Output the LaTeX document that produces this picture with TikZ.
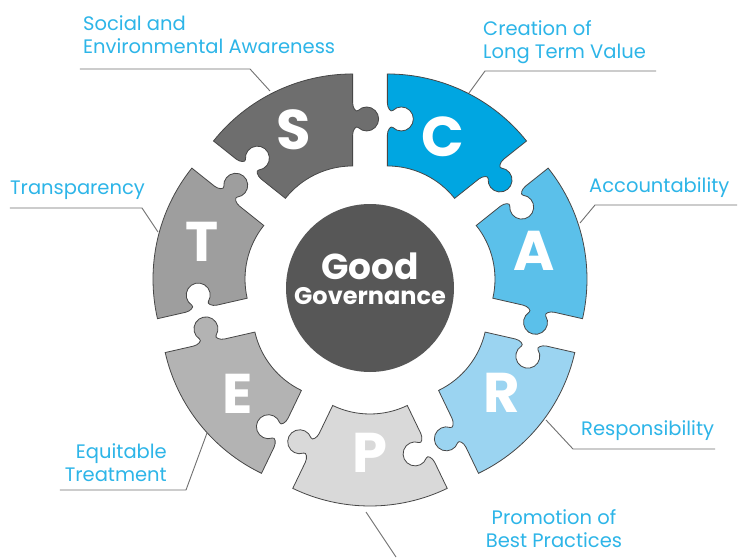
\documentclass[tikz,border=0pt]{standalone}
\usepackage{fontspec}
\setmainfont{Poppins}
\definecolor{cS}{HTML}{6E6E6E}
\definecolor{cC}{HTML}{00A6E1}
\definecolor{cA}{HTML}{5BC0EA}
\definecolor{cR}{HTML}{9BD4F1}
\definecolor{cP}{HTML}{D9D9D9}
\definecolor{cE}{HTML}{B3B3B3}
\definecolor{cT}{HTML}{9E9E9E}
\definecolor{cCore}{HTML}{575757}
\definecolor{lbl}{HTML}{2DB5E8}
\definecolor{ldr}{HTML}{707070}
\definecolor{edge}{HTML}{474747}
\tikzset{
  piece/.style={draw=edge, line width=0.8pt},
  pzletter/.style={text=white, inner sep=0pt, font=\fontsize{56}{56}\selectfont\bfseries},
  lbltext/.style={text=lbl, inner sep=0pt, font=\fontsize{19.5}{23}\selectfont},
  leader/.style={draw=ldr, line width=0.9pt},
}
\newcommand{\puzzlepiece}[2]{%
  \pgfmathsetmacro\pa{#1-25.7142857}%
  \pgfmathsetmacro\pb{#1+25.7142857}%
  \begin{scope}[shift={(#1:40)}]
    \path[piece, fill=#2] (\pa:86) -- (\pa:117)
      .. controls (\pa:122) and ({\pa-atan(3.39/126.63)}:{veclen(126.63,3.39)}) .. ({\pa-atan(5.51/124.51)}:{veclen(124.51,5.51)})
      arc[start angle={\pa-225}, end angle={\pa+45}, radius=12]
      .. controls ({\pa-atan(3.39/139.37)}:{veclen(139.37,3.39)}) and (\pa:144) .. (\pa:149)
      -- (\pa:178) arc[start angle=\pa, end angle=\pb, radius=178]
      -- (\pb:149)
      .. controls (\pb:144) and ({\pb-atan(3.39/139.37)}:{veclen(139.37,3.39)}) .. ({\pb-atan(5.51/141.49)}:{veclen(141.49,5.51)})
      arc[start angle={\pb+45}, end angle={\pb-225}, radius=12]
      .. controls ({\pb-atan(3.39/126.63)}:{veclen(126.63,3.39)}) and (\pb:122) .. (\pb:117)
      -- (\pb:86) arc[start angle=\pb, end angle=\pa, radius=86] -- cycle;
  \end{scope}%
}
\begin{document}
\begin{tikzpicture}[x=1pt, y=1pt]
  \useasboundingbox (-370,-269) rectangle (376,288);
  \fill[white] (-370,-269) rectangle (376,288);

  % puzzle ring
  \puzzlepiece{115.7142857}{cS}
  \puzzlepiece{64.2857143}{cC}
  \puzzlepiece{12.8571429}{cA}
  \puzzlepiece{-38.5714286}{cR}
  \puzzlepiece{-90}{cP}
  \puzzlepiece{-141.4285714}{cE}
  \puzzlepiece{167.1428571}{cT}

  % letters
  \node[pzletter] (LS) at (115.7:176) {S};
  \node[pzletter] (LC) at (64.3:168) {C};
  \node[pzletter] (LA) at (12.9:168) {A};
  \node[pzletter] (LR) at (-38.6:168) {R};
  \node[pzletter] (LP) at (-90:165) {P};
  \node[pzletter] (LE) at (-141.4:170) {E};
  \node[pzletter] (LT) at (164.5:174) {T};

  % centre
  \fill[cCore] (0,0) circle[radius=84];
  \node[text=white, inner sep=0pt, anchor=base, font=\fontsize{36}{36}\selectfont\bfseries] (good) at (0,9) {Good};
  \node[text=white, inner sep=0pt, anchor=base, font=\fontsize{24}{24}\selectfont\bfseries] (gov) at (0,-16) {Governance};

  % labels (base anchor of a two-line node lies on its last line)
  \node[lbltext, anchor=base west, align=left] (tS) at (-287,234) {Social and\\Environmental Awareness};
  \node[lbltext, anchor=base west, align=left] (tC) at (113,229) {Creation of\\Long Term Value};
  \node[lbltext, anchor=base west] (tT) at (-360,94) {Transparency};
  \node[lbltext, anchor=base west] (tA) at (219,96) {Accountability};
  \node[lbltext, anchor=base west] (tR) at (211,-147) {Responsibility};
  \node[lbltext, anchor=base east, align=right] (tE) at (-203,-193) {Equitable\\Treatment};
  \node[lbltext, anchor=base, align=center] (tP) at (184,-259) {Promotion of\\Best Practices};

  % leader lines
  \coordinate (s1) at (-290,219); \coordinate (s2) at (-120,219); \coordinate (s3) at (-100,197);
  \coordinate (c1) at (286,217);  \coordinate (c2) at (115,217);  \coordinate (c3) at (99,195);
  \coordinate (a1) at (367,83);   \coordinate (a2) at (225,83);   \coordinate (a3) at (210,65);
  \coordinate (r1) at (345,-161); \coordinate (r2) at (203,-161); \coordinate (r3) at (176,-132);
  \coordinate (p1) at (-4,-224);  \coordinate (p2) at (26,-269);
  \coordinate (e1) at (-310,-202); \coordinate (e2) at (-184,-202); \coordinate (e3) at (-163,-145);
  \coordinate (t1) at (-360,80);  \coordinate (t2) at (-228,80);  \coordinate (t3) at (-212,56);
  \draw[leader] (s1) -- (s2) -- (s3);
  \draw[leader] (c1) -- (c2) -- (c3);
  \draw[leader] (a1) -- (a2) -- (a3);
  \draw[leader] (r1) -- (r2) -- (r3);
  \draw[leader] (p1) -- (p2);
  \draw[leader] (e1) -- (e2) -- (e3);
  \draw[leader] (t1) -- (t2) -- (t3);
\end{tikzpicture}
\end{document}
